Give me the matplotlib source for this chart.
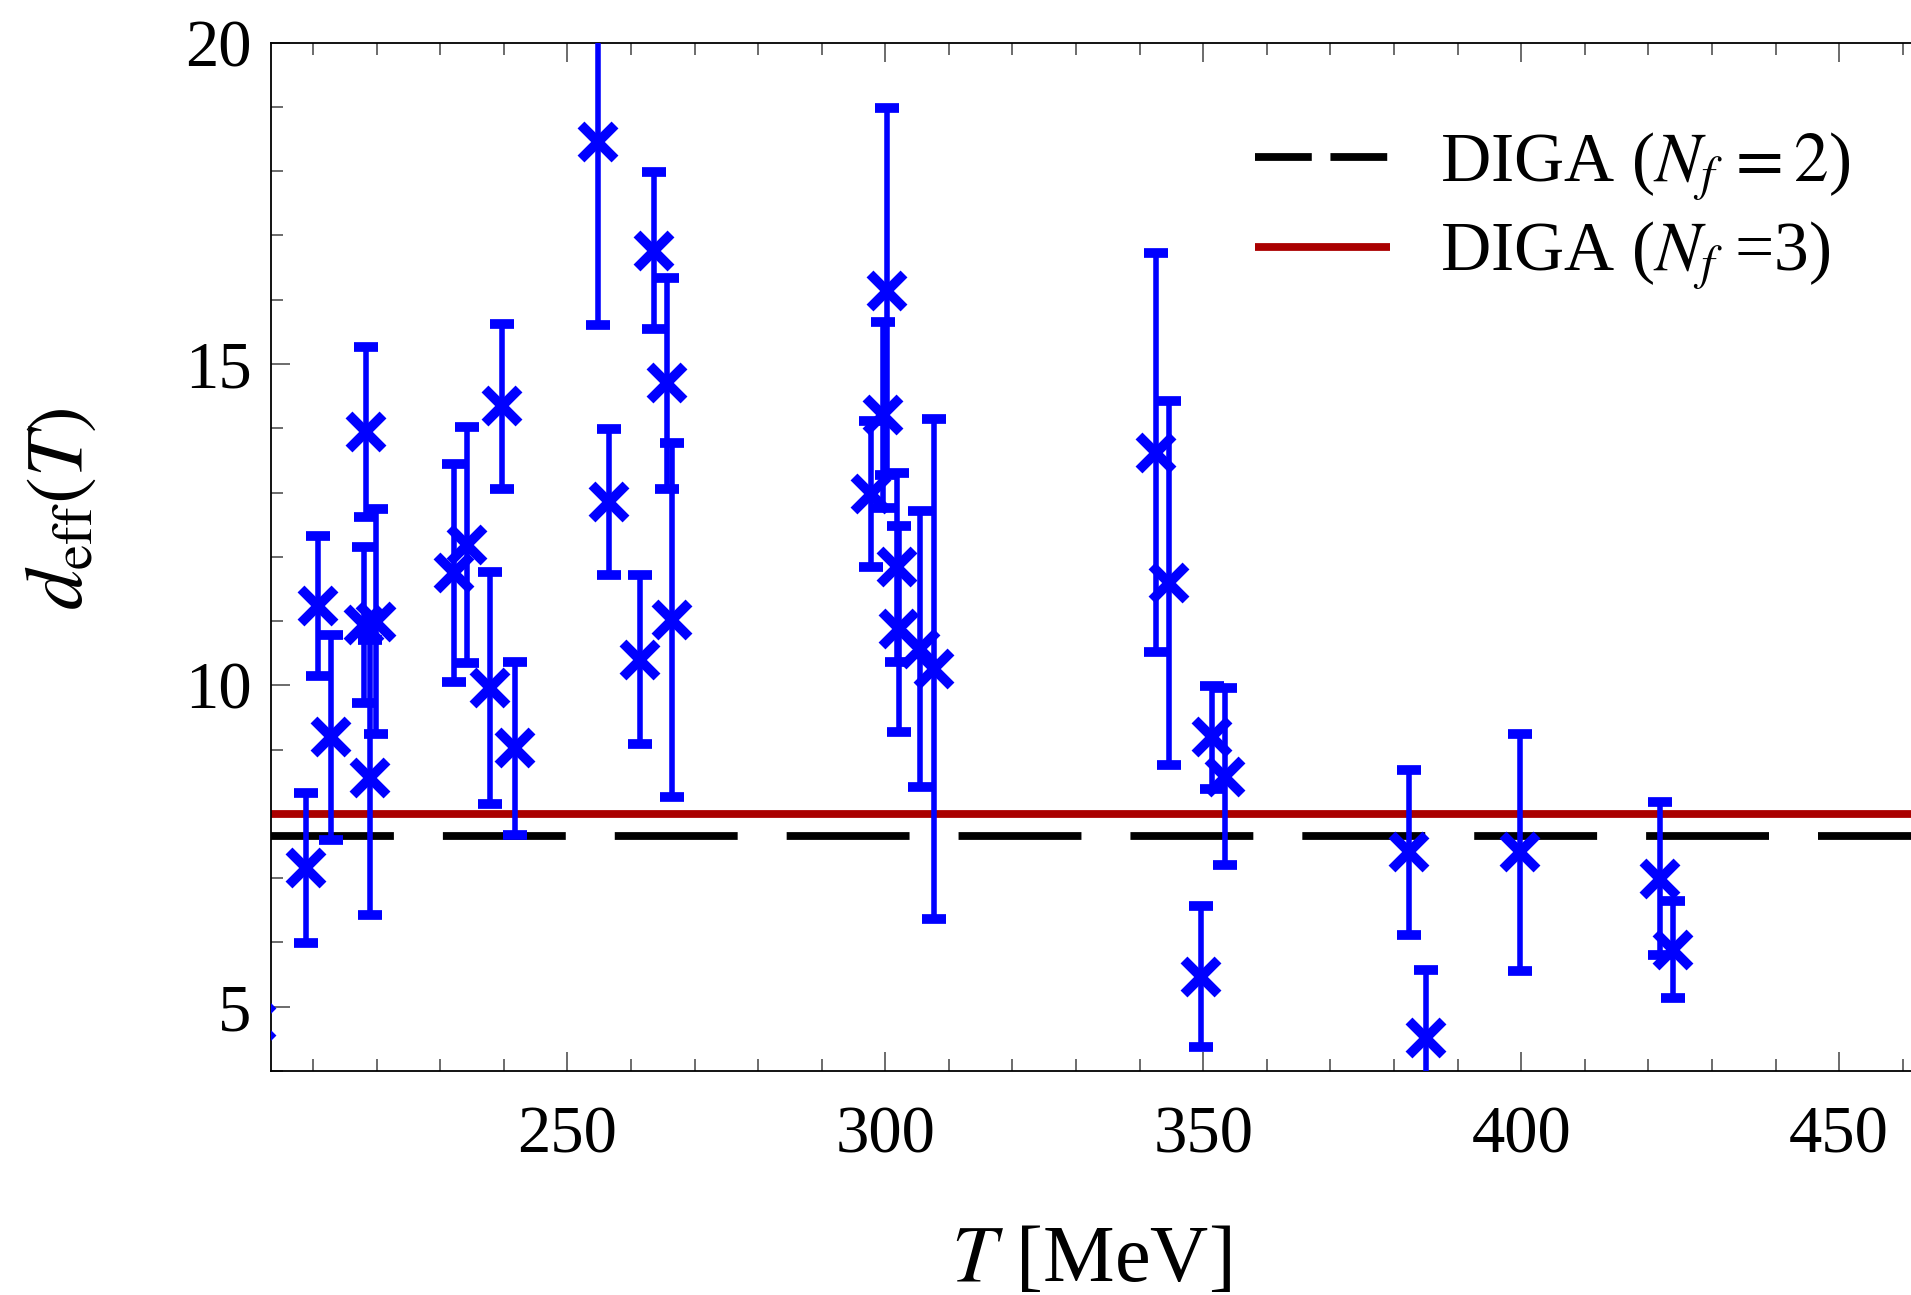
import matplotlib
matplotlib.use("Agg")
import matplotlib.pyplot as plt
from matplotlib.lines import Line2D
from matplotlib.ticker import MultipleLocator

plt.rcParams['font.family'] = ['Liberation Serif', 'DejaVu Serif']
plt.rcParams['mathtext.fontset'] = 'stix'

# ---- data ----
T_MeV = [201.1, 208.9, 210.8, 212.8, 218.0, 218.3, 219.0, 219.9,
         232.2, 234.3, 237.8, 239.8, 241.8,
         254.8, 256.6, 261.5, 263.6, 265.6, 266.5,
         297.7, 299.7, 300.2, 301.9, 302.1, 305.4, 307.6,
         342.5, 344.6, 349.6, 351.4, 353.4,
         382.3, 385.1, 399.8, 421.8, 423.8]
d_eff = [4.77, 7.16, 11.23, 9.19, 10.94, 13.94, 8.56, 10.99,
         11.75, 12.18, 9.96, 14.34, 9.02,
         18.45, 12.85, 10.40, 16.76, 14.70, 11.02,
         12.98, 14.21, 16.13, 11.84, 10.88, 10.57, 10.26,
         13.62, 11.59, 5.47, 9.19, 8.58,
         7.40, 4.51, 7.40, 6.99, 5.89]
d_err = [1.0, 1.17, 1.09, 1.60, 1.21, 1.32, 2.14, 1.75,
         1.70, 1.84, 1.81, 1.28, 1.35,
         2.84, 1.14, 1.31, 1.22, 1.64, 2.75,
         1.14, 1.45, 2.85, 1.47, 1.60, 2.15, 3.89,
         3.10, 2.83, 1.10, 0.80, 1.38,
         1.29, 1.06, 1.85, 1.19, 0.75]
diga_nf2 = 7.66
diga_nf3 = 8.00
x_ticks = [250, 300, 350, 400, 450]
y_ticks = [5, 10, 15, 20]
legend_labels = [r"DIGA ($N_f\,=2$)", r"DIGA ($N_f$ =3)"]

W, H, DPI = 1911, 1295, 100
fig = plt.figure(figsize=(W / DPI, H / DPI), dpi=DPI)
ax = fig.add_axes([271 / W, 1 - 1071 / H, 1 - 271 / W, (1071 - 42.6) / H])

blue = "#0000FF"
red = "#AA0000"

ax.axhline(diga_nf3, color=red, lw=5.6, zorder=2, solid_capstyle="butt")
ax.axhline(diga_nf2, color="black", lw=5.6, zorder=2,
           dashes=(15.8, 6.3), dash_capstyle="butt")

ax.errorbar(T_MeV, d_eff, yerr=d_err, fmt="x", ls="none", color=blue,
            ms=25, mew=7, elinewidth=4.0, capsize=8.5, capthick=4.0,
            zorder=3)

ax.set_xlim(203.4, 461.3)
ax.set_ylim(4.0, 20.0)
ax.set_xticks(x_ticks)
ax.set_yticks(y_ticks)
ax.xaxis.set_minor_locator(MultipleLocator(10))
ax.yaxis.set_minor_locator(MultipleLocator(1))

ax.tick_params(which="both", direction="in", top=True, right=False,
               color="#444444", width=1.1)
ax.tick_params(which="major", length=13.7, labelsize=48)
ax.tick_params(which="minor", length=8.6)
ax.tick_params(axis="x", which="major", pad=25)
ax.tick_params(axis="y", which="major", pad=14)
for s in ["left", "bottom", "top"]:
    ax.spines[s].set_linewidth(1.3)
    ax.spines[s].set_color("black")
ax.spines["right"].set_visible(False)

ax.set_xlabel(r"$T$ [MeV]", fontsize=58)
ax.xaxis.set_label_coords(0.5, -0.15)
ax.set_ylabel(r"$d_{\mathrm{eff}}(T)$", fontsize=58)
ax.yaxis.set_label_coords(-0.105, 0.547)

handles = [Line2D([], [], color="black", lw=5.6, dashes=(7.3, 2.4), dash_capstyle="butt"),
           Line2D([], [], color=red, lw=5.6, solid_capstyle="butt")]
leg = ax.legend(handles, legend_labels, loc="upper left",
                bbox_to_anchor=(0.600, 0.915), frameon=False, fontsize=50,
                handlelength=1.95, handletextpad=0.72, labelspacing=0.25,
                borderpad=0, borderaxespad=0)

fig.savefig("out.png", dpi=DPI)
